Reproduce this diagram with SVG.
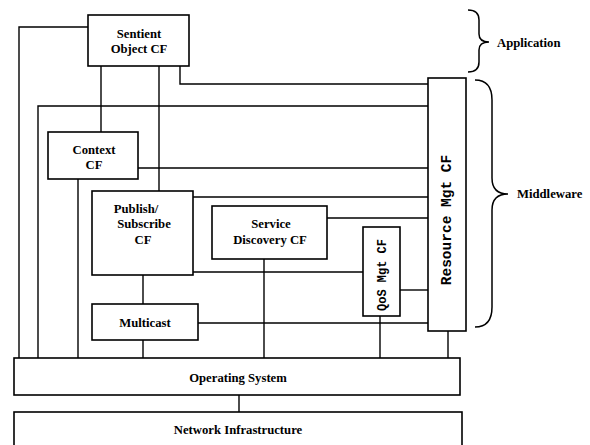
<svg xmlns="http://www.w3.org/2000/svg" width="590" height="445" viewBox="0 0 590 445">
<style>
.box{fill:#fff;stroke:#000;stroke-width:1.6}
.ln{fill:none;stroke:#000;stroke-width:1.4}
.t{font-family:"Liberation Serif","Times New Roman",serif;font-weight:bold;font-size:12.7px;text-anchor:middle;fill:#000}
.m{font-family:"Liberation Mono","Courier New",monospace;font-weight:bold;text-anchor:middle;fill:#000}
.br{fill:none;stroke:#000;stroke-width:1.5}
</style>
<rect width="590" height="445" fill="#fff"/>
<g id="connectors" class="ln">
<polyline points="88,27 19,27 19,358"/>
<line x1="101" y1="66" x2="101" y2="132"/>
<line x1="159" y1="66" x2="159" y2="191"/>
<polyline points="180,66 180,84 428,84"/>
<polyline points="38,358 38,106 428,106"/>
<line x1="138" y1="168" x2="428" y2="168"/>
<line x1="78" y1="179" x2="78" y2="358"/>
<line x1="193" y1="197" x2="428" y2="197"/>
<line x1="327" y1="218" x2="428" y2="218"/>
<line x1="193" y1="272" x2="363" y2="272"/>
<line x1="143" y1="275" x2="143" y2="304"/>
<line x1="198" y1="323" x2="428" y2="323"/>
<line x1="143" y1="340" x2="143" y2="358"/>
<line x1="264" y1="259" x2="264" y2="358"/>
<line x1="400" y1="290" x2="428" y2="290"/>
<line x1="380" y1="316" x2="380" y2="358"/>
<line x1="448" y1="331" x2="448" y2="358"/>
<line x1="239" y1="395" x2="239" y2="412"/>
</g>
<g id="sentient"><rect class="box" x="88" y="15" width="101" height="51"/><text class="t" x="139" y="38">Sentient</text><text class="t" x="139" y="53">Object CF</text></g>
<g id="context"><rect class="box" x="48" y="132" width="90" height="47"/><text class="t" x="94" y="154">Context</text><text class="t" x="94" y="169">CF</text></g>
<g id="pubsub"><rect class="box" x="92" y="191" width="101" height="84"/><text class="t" x="136" y="213">Publish/</text><text class="t" x="144" y="228">Subscribe</text><text class="t" x="143" y="244">CF</text></g>
<g id="service"><rect class="box" x="212" y="206" width="115" height="53"/><text class="t" x="271" y="228">Service</text><text class="t" x="270" y="244">Discovery CF</text></g>
<g id="qos"><rect class="box" x="363" y="227" width="37" height="89"/><text class="m" font-size="12" transform="translate(386,275) rotate(-90)">QoS Mgt CF</text></g>
<g id="resource"><rect class="box" x="428" y="78" width="38" height="253"/><text class="m" font-size="14.5" transform="translate(451,220) rotate(-90)">Resource Mgt CF</text></g>
<g id="multicast"><rect class="box" x="92" y="304" width="106" height="36"/><text class="t" x="145" y="327">Multicast</text></g>
<g id="os"><rect class="box" x="14" y="358" width="446" height="37"/><text class="t" x="238" y="382">Operating System</text></g>
<g id="network"><rect class="box" x="14" y="412" width="448" height="45"/><text class="t" x="238" y="434">Network Infrastructure</text></g>
<g id="application-brace"><path class="br" d="M468,10 Q479,10 479,20 L479,34 Q479,42 489,42 Q479,42 479,50 L479,62 Q479,72 468,72"/><text class="t" x="497" y="47" style="text-anchor:start">Application</text></g>
<g id="middleware-brace"><path class="br" d="M475,80 Q492,80 492,100 L492,178 Q492,194 508,194 Q492,194 492,210 L492,307 Q492,327 475,327"/><text class="t" x="517" y="198" style="text-anchor:start">Middleware</text></g>
</svg>
